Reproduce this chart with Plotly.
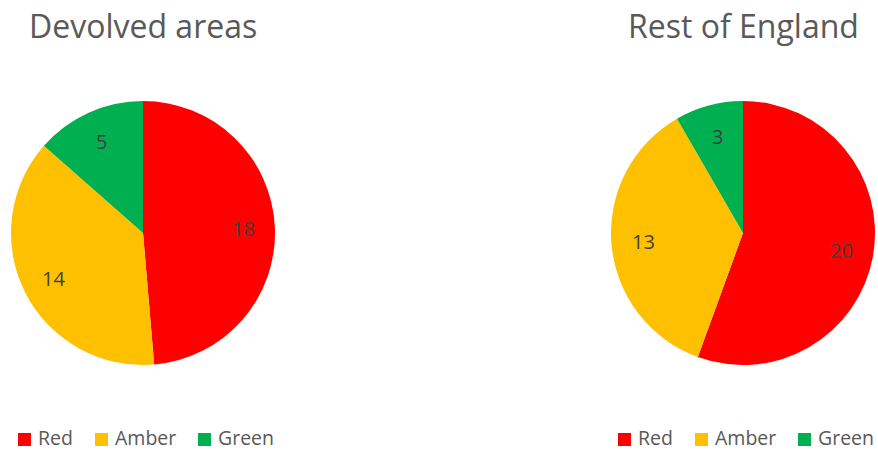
import math
import plotly.graph_objects as go

categories = ["Red", "Amber", "Green"]
devolved_values = [18, 14, 5]
england_values = [20, 13, 3]
colors = ["#FF0000", "#FFC000", "#00B050"]
titles = ["Devolved areas", "Rest of England"]

W, H = 878, 450
FONT = "Open Sans, Noto Sans, sans-serif"
TEXT = "#595959"
LABEL = "#404040"

# layout (pixels)
centers_x = [143, 743]
center_y = 233
radius = 132
legend_y = 437
legend_left = [18, 618]

fig = go.Figure()
annotations = []
shapes = []

for i, (vals, title) in enumerate(zip([devolved_values, england_values], titles)):
    cx = centers_x[i]
    fig.add_trace(go.Pie(
        labels=categories, values=vals, sort=False, direction="clockwise",
        rotation=0, marker=dict(colors=colors, line=dict(width=0)),
        textinfo="none", showlegend=False,
        domain=dict(x=[(cx - radius) / W, (cx + radius) / W],
                    y=[1 - (center_y + radius) / H, 1 - (center_y - radius) / H]),
        hoverinfo="label+value", name=title,
    ))
    # value labels along mid-angle of each slice
    total = sum(vals)
    start = 0.0
    for v in vals:
        mid = (start + v / 2) / total * 2 * math.pi
        start += v
        r = 0.76 * radius
        px = cx + r * math.sin(mid)
        py = center_y - r * math.cos(mid)
        annotations.append(dict(
            text=str(v), x=px / W, y=1 - py / H, xref="paper", yref="paper",
            showarrow=False, xanchor="center", yanchor="middle",
            font=dict(size=20, color=LABEL, family=FONT)))
    # title
    annotations.append(dict(
        text=title, x=cx / W, y=1 - 25 / H, xref="paper", yref="paper",
        showarrow=False, xanchor="center", yanchor="middle",
        font=dict(size=32, color=TEXT, family=FONT)))
    # legend
    offsets = [0, 77, 180]
    for cat, col, off in zip(categories, colors, offsets):
        x0 = legend_left[i] + off
        shapes.append(dict(type="rect", xref="paper", yref="paper",
                           x0=x0 / W, x1=(x0 + 13) / W,
                           y0=1 - (legend_y + 9) / H, y1=1 - (legend_y - 4) / H,
                           fillcolor=col, line=dict(width=0)))
        annotations.append(dict(
            text=cat, x=(x0 + 18) / W, y=1 - legend_y / H, xref="paper", yref="paper",
            showarrow=False, xanchor="left", yanchor="middle",
            font=dict(size=19.5, color=TEXT, family=FONT)))

fig.update_layout(
    width=W, height=H, margin=dict(l=0, r=0, t=0, b=0),
    paper_bgcolor="white", plot_bgcolor="white",
    annotations=annotations, shapes=shapes, showlegend=False,
)
fig.write_html("out.html", config={"displayModeBar": False},
               post_script="document.body.style.margin='0';")
